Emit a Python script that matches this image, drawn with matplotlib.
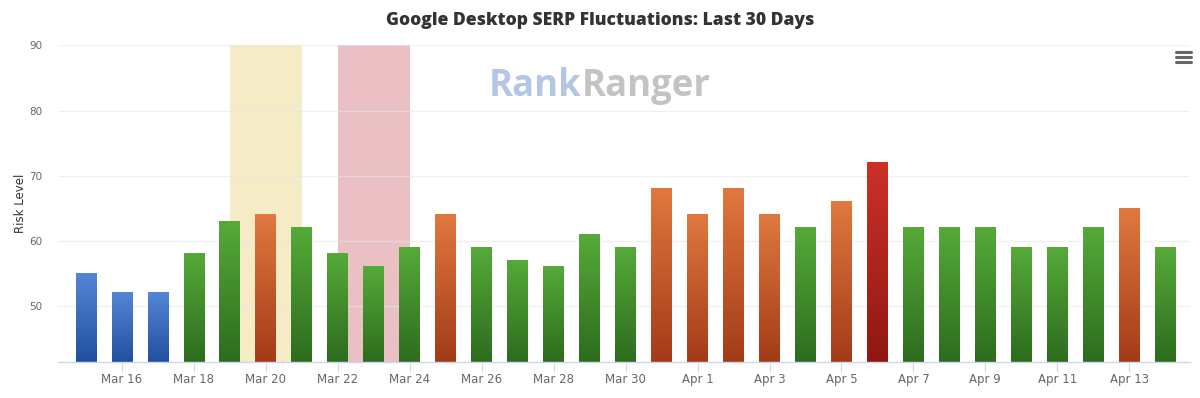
import matplotlib
matplotlib.use("Agg")
import matplotlib.pyplot as plt
import matplotlib.colors as mcolors
import numpy as np

# data
days = ["Mar 15", "Mar 16", "Mar 17", "Mar 18", "Mar 19", "Mar 20", "Mar 21", "Mar 22",
        "Mar 23", "Mar 24", "Mar 25", "Mar 26", "Mar 27", "Mar 28", "Mar 29", "Mar 30",
        "Mar 31", "Apr 1", "Apr 2", "Apr 3", "Apr 4", "Apr 5", "Apr 6", "Apr 7",
        "Apr 8", "Apr 9", "Apr 10", "Apr 11", "Apr 12", "Apr 13", "Apr 14"]
risk = [55, 52, 52, 58, 63, 64, 62, 58, 56, 59, 64, 59, 57, 56, 61, 59,
        68, 64, 68, 64, 62, 66, 72, 62, 62, 62, 59, 59, 62, 65, 59]
yellow_band = ("Mar 19", "Mar 21")
red_band = ("Mar 22", "Mar 24")

# gradient colours (top, bottom) per risk level
grad = {
    "blue": ("#5585d6", "#21509e"),
    "green": ("#55aa38", "#2d6c1e"),
    "orange": ("#e0783f", "#a33b18"),
    "red": ("#cc3128", "#901812"),
}

def level(v):
    if v <= 55:
        return "blue"
    if v <= 63:
        return "green"
    if v <= 71:
        return "orange"
    return "red"

fig = plt.figure(figsize=(12, 3.98), dpi=100)
ax = fig.add_axes([0.0483, 0.0897, 0.9434, 0.7965])
plt.rcParams['font.family'] = ['DejaVu Sans']

x = np.arange(len(days))
ymin, ymax = 41.4, 90

# plot bands
ax.axvspan(days.index(yellow_band[0]), days.index(yellow_band[1]), color="#f5ecc7", zorder=0, lw=0)
ax.axvspan(days.index(red_band[0]), days.index(red_band[1]), color="#ebc0c4", zorder=0, lw=0)

# grid
for g in [50, 60, 70, 80, 90]:
    ax.axhline(g, color="#e6e6e6", lw=1, zorder=0.5, alpha=0.6)

bars = ax.bar(x, np.array(risk) - ymin, bottom=ymin, width=0.58, color="none", lw=0, zorder=2)
for b, v in zip(bars, risk):
    top_c, bot_c = grad[level(v)]
    cmap = mcolors.LinearSegmentedColormap.from_list("g", [bot_c, top_c])
    x0, y0 = b.get_x(), b.get_y()
    ax.imshow(np.linspace(0, 1, 100).reshape(-1, 1), cmap=cmap, origin="lower",
              extent=(x0, x0 + b.get_width(), y0, y0 + b.get_height()),
              aspect="auto", zorder=2, interpolation="bilinear")
ax.set_xlim(-0.78, len(days) - 1 + 0.69)
ax.set_ylim(ymin, ymax)

# axes styling
for s in ["top", "right", "left"]:
    ax.spines[s].set_visible(False)
ax.spines["bottom"].set_color("#ccd6eb")
ax.spines["bottom"].set_linewidth(1)
ax.spines["bottom"].set_zorder(3)

ax.set_xticks(x[1::2])
ax.set_xticklabels(days[1::2], fontsize=8.5, color="#666666")
ax.tick_params(axis="x", length=7, color="#ccd6eb", pad=0.5)
ax.set_yticks([50, 60, 70, 80, 90])
ax.set_yticklabels(["50", "60", "70", "80", "90"], fontsize=7.5, color="#666666")
ax.tick_params(axis="y", length=0, pad=11)
ax.set_ylabel("Risk Level", fontsize=8.5, color="#333333", labelpad=2)

fig.text(0.5, 0.949, "Google Desktop SERP Fluctuations: Last 30 Days", ha="center", va="center",
         fontsize=12.6, fontweight=800, color="#333333", family="Open Sans")

# watermark
t1 = fig.text(0.4075, 0.785, "Rank", ha="left", va="center", fontsize=26.3, fontweight="bold",
              color="#b3c6e6", family="Open Sans")
fig.canvas.draw()
bb = t1.get_window_extent()
fig.text(bb.x1 / fig.bbox.width, 0.785, "Ranger", ha="left", va="center", fontsize=26.3,
         fontweight="bold", color="#c3c3c3", family="Open Sans")

# menu icon
for yy in [0.869, 0.856, 0.843]:
    fig.add_artist(plt.Line2D([0.98, 0.9925], [yy, yy], color="#666666", lw=2.2,
                              solid_capstyle="round"))

fig.savefig("out.png", dpi=100)
